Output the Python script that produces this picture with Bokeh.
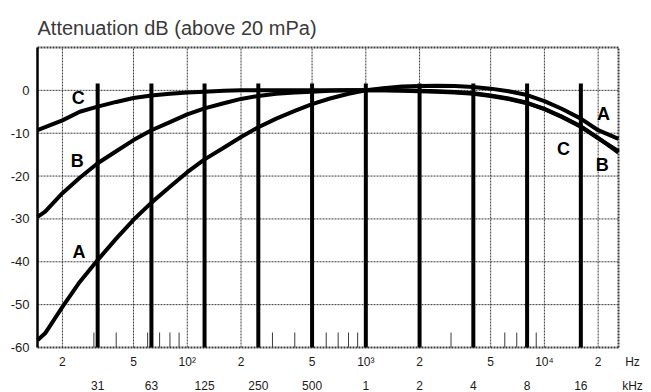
import math
from bokeh.plotting import figure
from bokeh.models import Range1d
from bokeh.core.properties import value
from bokeh.embed import file_html
from bokeh.resources import INLINE

# ---- data ----
freq = [14.5, 16, 20, 25, 31.5, 40, 50, 63, 80, 100, 125, 160, 200, 250, 315, 400,
        500, 630, 800, 1000, 1250, 1600, 2000, 2500, 3150, 4000, 5000, 6300, 8000,
        10000, 12500, 16000, 20000, 26000]
weight_a = [-58.3, -56.7, -50.5, -44.7, -39.6, -34.6, -30.2, -26.2, -22.5, -19.1, -16.1,
            -13.4, -10.9, -8.6, -6.6, -4.8, -3.2, -1.9, -0.8, 0.0, 0.5, 0.9, 1.0, 1.1,
            1.0, 0.8, 0.4, -0.2, -1.1, -2.5, -4.3, -6.6, -9.3, -11.3]
weight_b = [-29.5, -28.3, -24.0, -20.4, -17.0, -14.2, -11.6, -9.3, -7.4, -5.6, -4.2,
            -3.0, -2.0, -1.3, -0.8, -0.5, -0.3, -0.1, 0.0, 0.0, 0.0, 0.0, -0.1, -0.2,
            -0.4, -0.7, -1.2, -1.9, -2.9, -4.3, -6.1, -8.4, -11.1, -14.5]
weight_c = [-9.3, -8.6, -7.0, -5.0, -3.8, -2.7, -1.8, -1.2, -0.8, -0.5, -0.3, -0.1,
            0.0, 0.0, 0.0, 0.0, 0.0, 0.0, 0.0, 0.0, 0.0, -0.1, -0.2, -0.3, -0.5, -0.8,
            -1.3, -2.0, -3.0, -4.4, -6.2, -8.5, -11.2, -14.2]

octave_centers = [31.5, 63, 125, 250, 500, 1000, 2000, 4000, 8000, 16000]
octave_labels = ["31", "63", "125", "250", "500", "1", "2", "4", "8", "16"]
decade_ticks = [20, 50, 100, 200, 500, 1000, 2000, 5000, 10000, 20000]
decade_labels = ["2", "5", "10²", "2", "5", "10³", "2", "5", "10⁴", "2"]
minor_ticks = [30, 40, 60, 70, 80, 90, 300, 400, 600, 700, 800, 900,
               3000, 4000, 6000, 7000, 8000, 9000]
db_ticks = [0, -10, -20, -30, -40, -50, -60]
db_grid = [0, -10, -20, -30, -40, -50]

curve_label_text = ["C", "B", "A", "A", "C", "B"]
curve_label_f = [24.5, 24.2, 24.8, 21400, 12800, 21100]
curve_label_db = [-1.7, -16.4, -37.8, -5.4, -13.6, -17.3]

title_text = "Attenuation dB (above 20 mPa)"
unit_labels = ["Hz", "kHz"]

F_MIN, F_MAX = 14.5, 26000
DB_MIN, DB_MAX = -60, 10
BAR_TOP = 1.6
TICK_TOP = -56.5

# ---- layout (pixels) ----
W, H = 651, 392
BOX_L, BOX_R, BOX_T, BOX_B = 37, 618, 47, 347
kx = (BOX_R - BOX_L) / math.log10(F_MAX / F_MIN)
ky = (BOX_B - BOX_T) / (DB_MAX - DB_MIN)


def fx(px):
    return F_MIN * 10 ** ((px - BOX_L) / kx)


def fy(py):
    return DB_MAX - (py - BOX_T) / ky


FONT = "Liberation Sans"
INK = "#1a1a1a"
GRID = "#3a3a3a"

p = figure(width=W, height=H, x_axis_type="log",
           x_range=Range1d(fx(0), fx(W)), y_range=Range1d(fy(H), fy(0)),
           x_axis_location=None, y_axis_location=None,
           output_backend="svg", toolbar_location=None, min_border=0)
p.outline_line_color = None
p.grid.visible = False
p.background_fill_color = "white"
p.border_fill_color = "white"

n_d = len(decade_ticks)
n_g = len(db_grid)
# grid
p.segment(x0=decade_ticks, y0=[DB_MIN] * n_d, x1=decade_ticks, y1=[DB_MAX] * n_d,
          line_color=GRID, line_width=1, line_dash="2 1")
p.segment(x0=[F_MIN] * n_g, y0=db_grid, x1=[F_MAX] * n_g, y1=db_grid,
          line_color=GRID, line_width=1, line_dash="2 1")
# frame: top, right, bottom dashed; left solid
p.segment(x0=[F_MIN, F_MAX, F_MIN], y0=[DB_MAX, DB_MIN, DB_MIN],
          x1=[F_MAX, F_MAX, F_MAX], y1=[DB_MAX, DB_MAX, DB_MIN],
          line_color=GRID, line_width=2, line_dash="2 1")
p.segment(x0=[F_MIN], y0=[DB_MIN], x1=[F_MIN], y1=[DB_MAX],
          line_color="black", line_width=2.5)

# small ticks at bottom
n_m = len(minor_ticks)
p.segment(x0=minor_ticks, y0=[DB_MIN] * n_m, x1=minor_ticks, y1=[TICK_TOP] * n_m,
          line_color=GRID, line_width=1)

# octave band bars
n_o = len(octave_centers)
p.segment(x0=octave_centers, y0=[DB_MIN] * n_o, x1=octave_centers,
          y1=[BAR_TOP] * n_o, line_color="black", line_width=4)

# weighting curves
for w in (weight_a, weight_b, weight_c):
    p.line(freq, w, line_color="black", line_width=4, line_join="round")

# curve letters
p.text(x=curve_label_f, y=curve_label_db, text=curve_label_text,
       text_font=value(FONT), text_font_style="bold", text_font_size="18px",
       text_align="center", text_baseline="middle", text_color="black")

# y tick labels
p.text(x=[fx(29)] * len(db_ticks), y=db_ticks, text=[str(v) for v in db_ticks],
       text_font=value(FONT), text_font_size="13px", text_align="right",
       text_baseline="middle", text_color=INK)

# x tick labels, row 1 (Hz decades) and row 2 (octave centres)
p.text(x=decade_ticks, y=[fy(361)] * n_d, text=decade_labels,
       text_font=value(FONT), text_font_size="12px", text_align="center",
       text_baseline="middle", text_color=INK)
p.text(x=octave_centers, y=[fy(385)] * n_o, text=octave_labels,
       text_font=value(FONT), text_font_size="12px", text_align="center",
       text_baseline="middle", text_color=INK)
p.text(x=[fx(632)] * 2, y=[fy(361), fy(385)], text=unit_labels,
       text_font=value(FONT), text_font_size="12px", text_align="center",
       text_baseline="middle", text_color=INK)

# title
p.text(x=[F_MIN], y=[fy(27)], text=[title_text], text_font=value(FONT),
       text_font_size="20px", text_align="left", text_baseline="alphabetic",
       text_color="#3a3a3a")

open("out.html", "w").write(file_html(p, INLINE))
